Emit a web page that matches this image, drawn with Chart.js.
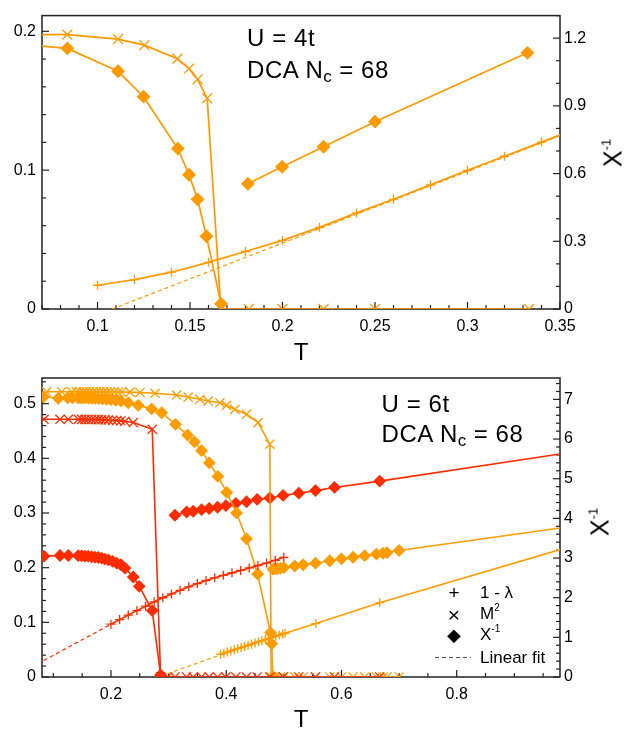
<!DOCTYPE html>
<html>
<head>
<meta charset="utf-8">
<script src="https://cdn.jsdelivr.net/npm/chart.js@4.4.1/dist/chart.umd.min.js"></script>
<style>
html,body{margin:0;padding:0;background:#fff;}
#wrap{position:relative;width:633px;height:730px;overflow:hidden;font-family:"Liberation Sans",Arial,Helvetica,sans-serif;color:#000;}
canvas{position:absolute;left:0;}
#c1{top:0;}
#c2{top:340px;}
.t{position:absolute;white-space:nowrap;line-height:1;}
.ann{font-size:24px;letter-spacing:0.6px;}
.ann sub{font-size:17px;vertical-align:baseline;position:relative;top:4px;letter-spacing:0;}
.ttl{font-size:24px;transform:translateX(-50%);}
.chi{font-size:25px;transform:translate(-50%,-50%) rotate(-90deg);}
.chi sup,.leg sup{vertical-align:baseline;position:relative;}
.chi sup{font-size:13px;top:-11px;}
.leg{font-size:17px;}
.leg sup{font-size:10px;top:-8px;}
.sym{width:20px;text-align:center;}
.dash{position:absolute;height:1px;background:repeating-linear-gradient(to right,#555 0 4px,transparent 4px 7px);}
</style>
</head>
<body>
<div id="wrap">
<canvas id="c1" width="633" height="340"></canvas>
<canvas id="c2" width="633" height="390"></canvas>

<div class="t ann" style="left:247px;top:25.5px">U = 4t</div>
<div class="t ann" style="left:247px;top:57.5px">DCA N<sub>c</sub> = 68</div>
<div class="t ttl" style="left:301px;top:340px">T</div>
<div class="t chi" style="left:613px;top:153px">Χ<sup>-1</sup></div>

<div class="t ann" style="left:381.5px;top:392px">U = 6t</div>
<div class="t ann" style="left:381.5px;top:422px">DCA N<sub>c</sub> = 68</div>
<div class="t ttl" style="left:301px;top:707px">T</div>
<div class="t chi" style="left:600px;top:522px">Χ<sup>-1</sup></div>

<div class="t leg sym" style="left:444px;top:583px;font-size:19px">+</div>
<div class="t leg" style="left:480px;top:584px">1 - λ</div>
<div class="t leg sym" style="left:444px;top:604px;font-size:21px">×</div>
<div class="t leg" style="left:480px;top:605px">M<sup>2</sup></div>
<div class="t leg sym" style="left:444px;top:626px;font-size:18px">◆</div>
<div class="t leg" style="left:480px;top:626px">Χ<sup>-1</sup></div>
<div class="dash" style="left:435px;top:657px;width:36px"></div>
<div class="t leg" style="left:480px;top:649px">Linear fit</div>
</div>

<script>
// ================= Panel 1 : U = 4t =================
// 1 - lambda (plus markers)
const topT_lambda = [0.10,0.12,0.14,0.16,0.18,0.20,0.22,0.24,0.26,0.28,0.30,0.32,0.34,0.36];
const topV_lambda = [0.0171,0.0212,0.0265,0.0336,0.0414,0.0494,0.0588,0.0692,0.0790,0.0894,0.0999,0.1100,0.1202,0.1304];
// linear fit of 1 - lambda (dashed)
const topT_fit = [0.1079,0.36];
const topV_fit = [0.0,0.130];
// M^2 (x markers)
const topT_m2 = [0.0625,0.0837,0.1111,0.1253,0.1432,0.1495,0.1541,0.1593,0.1667,0.1818,0.2000,0.2222,0.2500,0.3333];
const topV_m2 = [0.1977,0.1976,0.1943,0.1900,0.1802,0.1731,0.1654,0.1517,0,0,0,0,0,0];
// diamonds below Tc
const topT_dOrd = [0.0625,0.0837,0.1111,0.1249,0.1434,0.1495,0.1541,0.1589,0.1668];
const topV_dOrd = [0.1903,0.1877,0.1712,0.1529,0.1155,0.0967,0.0790,0.0524,0.0037];
// chi^-1 above Tc (right axis)
const topT_chiInv = [0.1813,0.1998,0.2222,0.2500,0.3324];
const topV_chiInv = [0.555,0.630,0.719,0.830,1.135];
// tick labels
const topXTicks = [0.1,0.15,0.2,0.25,0.3,0.35];
const topYTicks = [0,0.1,0.2];
const topY2Ticks = [0,0.3,0.6,0.9,1.2];

// ================= Panel 2 : U = 6t =================
// orange set
const botT_lamO = [0.390,0.396,0.402,0.408,0.414,0.420,0.426,0.432,0.438,0.444,0.450,0.456,0.462,0.468,0.474,0.480,0.486,0.492,0.498,0.502,0.5555,0.6664,1.0];
const botV_lamO = [0.0415,0.0435,0.0456,0.0477,0.0497,0.0518,0.0539,0.0560,0.0580,0.0601,0.0622,0.0643,0.0663,0.0684,0.0705,0.0726,0.0746,0.0767,0.0788,0.0800,0.0978,0.1360,0.2393];
const botT_fitO = [0.298,0.50];
const botV_fitO = [0.006,0.0815];
const botT_m2O = [0.0885,0.1145,0.1318,0.1405,0.146,0.152,0.157,0.163,0.169,0.175,0.181,0.187,0.193,0.199,0.206,0.213,0.2186,0.233,0.2503,0.2763,0.3139,0.334,0.3543,0.3687,0.389,0.4006,0.415,0.4353,0.4554,0.4757,
                  0.478,0.485,0.494,0.500,0.519,0.5335,0.555,0.5797,0.600,0.6202,0.6404,0.6607,0.6722,0.6791,0.700];
const botV_m2O = [0.5218,0.5218,0.5218,0.5218,0.5218,0.5218,0.5218,0.5218,0.5217,0.5217,0.5217,0.5216,0.5216,0.5215,0.5215,0.5214,0.5214,0.5212,0.5205,0.5190,0.5158,0.5121,0.5080,0.5048,0.5017,0.4970,0.4897,0.4806,0.4653,0.4259,
                  0,0,0,0,0,0,0,0,0,0,0,0,0,0,0];
const botT_dOrdO = [0.0830,0.1086,0.1250,0.1333,0.1429,0.1471,0.1515,0.1563,0.1613,0.1667,0.1724,0.1786,0.1852,0.1923,0.2000,0.2083,0.2174,0.2300,0.2473,0.2706,0.2879,0.3120,0.3330,0.3450,0.3573,0.3705,0.3855,0.4010,0.4180,0.4353,0.4545,0.4769,0.4790,0.4810];
const botV_dOrdO = [0.5127,0.5100,0.5105,0.5108,0.5108,0.5107,0.5106,0.5105,0.5103,0.5100,0.5097,0.5093,0.5088,0.5082,0.5074,0.5063,0.5048,0.5017,0.4970,0.4905,0.4835,0.4623,0.4425,0.4300,0.4140,0.3918,0.3670,0.3377,0.3000,0.2528,0.1885,0.0810,0.0607,0.0];
const botT_chiO = [0.481,0.485,0.489,0.494,0.500,0.519,0.5335,0.555,0.5797,0.600,0.6202,0.6404,0.6607,0.6722,0.6791,0.700,1.0];
const botV_chiO = [2.72,2.73,2.735,2.74,2.76,2.80,2.83,2.87,2.93,2.98,3.02,3.06,3.10,3.12,3.135,3.19,3.80];
// red set
const botT_lamR = [0.200,0.215,0.230,0.245,0.260,0.275,0.290,0.305,0.320,0.335,0.350,0.365,0.380,0.395,0.410,0.425,0.440,0.455,0.470,0.485,0.500];
const botV_lamR = [0.0966,0.1050,0.1133,0.1215,0.1295,0.1375,0.1450,0.1520,0.1585,0.1650,0.1710,0.1765,0.1815,0.1860,0.1905,0.1950,0.1995,0.2040,0.2085,0.2135,0.2190];
const botT_fitR = [0.0833,0.215];
const botV_fitR = [0.0302,0.105];
const botT_m2R = [0.0838,0.1116,0.126,0.1433,0.1492,0.1549,0.1606,0.1665,0.1723,0.178,0.1839,0.1896,0.1954,0.2029,0.2099,0.2173,0.2243,0.2387,0.2716,
                  0.2862,0.2985,0.311,0.3313,0.3427,0.3573,0.3705,0.385,0.3994,0.4167,0.4353,0.4537,0.4757,0.4988,0.526,0.555,0.588,0.6664];
const botV_m2R = [0.4715,0.4715,0.4715,0.4714,0.4714,0.4713,0.4712,0.4711,0.4710,0.4708,0.4706,0.4704,0.4701,0.4697,0.4693,0.4688,0.4678,0.4655,0.4533,
                  0,0,0,0,0,0,0,0,0,0,0,0,0,0,0,0,0,0];
const botT_dOrdR = [0.0838,0.1116,0.126,0.1433,0.1492,0.1549,0.1606,0.1665,0.1723,0.178,0.1839,0.1896,0.1954,0.2029,0.2099,0.2173,0.2243,0.2387,0.2491,0.2716,0.2862];
const botV_dOrdR = [0.2211,0.2223,0.2223,0.2220,0.2217,0.2211,0.2211,0.2200,0.2190,0.2186,0.2174,0.2156,0.2144,0.2114,0.2083,0.2053,0.1993,0.1830,0.1658,0.1215,0.0036];
const botT_chiR = [0.311,0.3313,0.3427,0.3573,0.3705,0.385,0.3994,0.4167,0.4353,0.4537,0.4757,0.4988,0.526,0.555,0.588,0.6664,1.0];
const botV_chiR = [4.08,4.16,4.18,4.22,4.25,4.28,4.32,4.375,4.42,4.48,4.515,4.58,4.635,4.70,4.78,4.94,5.67];
// tick labels
const botXTicks = [0.2,0.4,0.6,0.8];
const botYTicks = [0,0.1,0.2,0.3,0.4,0.5];
const botY2Ticks = [0,1,2,3,4,5,6,7];

// ================= drawing =================
const ORANGE_TOP = '#ff9900';
const ORANGE = '#ff9c00';
const RED = '#ff2c00';

function pts(T, V) { return T.map((t, i) => ({x: t, y: V[i]})); }
function series(T, V, color, style, r, axis, lw, dash) {
  return {
    data: pts(T, V), yAxisID: axis,
    borderColor: color, backgroundColor: color,
    borderWidth: lw, borderDash: dash || [],
    pointStyle: style || 'circle', pointRadius: style ? r : 0, pointHoverRadius: style ? r : 0,
    pointBackgroundColor: color, pointBorderColor: color, pointBorderWidth: 1.3,
    fill: false, tension: 0
  };
}

const frameTicks = {
  id: 'frameTicks',
  beforeDatasetsDraw(chart, args, opts) {
    const {ctx, chartArea: a} = chart;
    ctx.save();
    ctx.strokeStyle = '#222';
    ctx.lineWidth = 1.5;
    ctx.strokeRect(a.left, a.top, a.right - a.left, a.bottom - a.top);
    ctx.lineWidth = 1.2;
    const draw = (id, side) => {
      const s = chart.scales[id], c = opts[id];
      const n0 = Math.ceil(s.min / c.minor - 1e-6), n1 = Math.floor(s.max / c.minor + 1e-6);
      for (let n = n0; n <= n1; n++) {
        const v = n * c.minor;
        const r = v / c.major;
        const len = Math.abs(r - Math.round(r)) < 1e-6 ? 7 : 4;
        const p = s.getPixelForValue(v);
        ctx.beginPath();
        if (side === 'bottom') { ctx.moveTo(p, a.bottom); ctx.lineTo(p, a.bottom - len); }
        else if (side === 'left') { ctx.moveTo(a.left, p); ctx.lineTo(a.left + len, p); }
        else { ctx.moveTo(a.right, p); ctx.lineTo(a.right - len, p); }
        ctx.stroke();
      }
    };
    draw('x', 'bottom'); draw('y', 'left'); draw('y2', 'right');
    ctx.restore();
  }
};

const tickFont = {family: '"Liberation Sans", Arial, Helvetica, sans-serif', size: 16};
function axis(pos, min, max, ticksArr, pad, fitFn) {
  return {
    type: 'linear', position: pos, min: min, max: max,
    grid: {display: false, drawTicks: false},
    border: {display: false},
    afterBuildTicks: s => { s.ticks = ticksArr.map(v => ({value: v})); },
    afterFit: fitFn,
    ticks: {padding: pad, font: tickFont, color: '#000', autoSkip: false, maxRotation: 0,
            callback: v => String(v)}
  };
}

function makeChart(id, datasets, cfg) {
  return new Chart(document.getElementById(id), {
    type: 'line',
    data: {datasets: datasets},
    options: {
      responsive: false, animation: false, devicePixelRatio: 1, events: [],
      layout: {padding: {left: 0, right: 0, top: cfg.padTop, bottom: 0}},
      plugins: {legend: {display: false}, tooltip: {enabled: false}, frameTicks: cfg.ticks},
      scales: {
        x: axis('bottom', cfg.x[0], cfg.x[1], cfg.xt, 7.5, s => { s.height = cfg.xH; }),
        y: axis('left', cfg.y[0], cfg.y[1], cfg.yt, 6, s => { s.width = 42; }),
        y2: axis('right', cfg.y2[0], cfg.y2[1], cfg.y2t, 4, s => { s.width = 73; })
      }
    },
    plugins: [frameTicks]
  });
}

makeChart('c1', [
  series(topT_fit, topV_fit, ORANGE_TOP, null, 0, 'y', 1.2, [4, 3]),
  series(topT_lambda, topV_lambda, ORANGE_TOP, 'cross', 4.5, 'y', 1.7),
  series(topT_m2, topV_m2, ORANGE_TOP, 'crossRot', 7, 'y', 1.7),
  series(topT_dOrd, topV_dOrd, ORANGE_TOP, 'rectRot', 6, 'y', 1.7),
  series(topT_chiInv, topV_chiInv, ORANGE_TOP, 'rectRot', 6, 'y2', 1.7)
], {
  padTop: 10, xH: 31,
  x: [0.07, 0.35], y: [0, 0.2113], y2: [0, 1.3],
  xt: topXTicks, yt: topYTicks, y2t: topY2Ticks,
  ticks: {x: {major: 0.05, minor: 0.01}, y: {major: 0.1, minor: 0.02}, y2: {major: 0.3, minor: 0.1}}
});

makeChart('c2', [
  series(botT_fitR, botV_fitR, RED, null, 0, 'y', 1.2, [4, 3]),
  series(botT_fitO, botV_fitO, ORANGE, null, 0, 'y', 1.2, [4, 3]),
  series(botT_lamR, botV_lamR, RED, 'cross', 4.5, 'y', 1.6),
  series(botT_lamO, botV_lamO, ORANGE, 'cross', 4.5, 'y', 1.6),
  series(botT_m2R, botV_m2R, RED, 'crossRot', 6.5, 'y', 1.6),
  series(botT_m2O, botV_m2O, ORANGE, 'crossRot', 6.5, 'y', 1.6),
  series(botT_dOrdR, botV_dOrdR, RED, 'rectRot', 5.5, 'y', 1.6),
  series(botT_dOrdO, botV_dOrdO, ORANGE, 'rectRot', 5.5, 'y', 1.6),
  series(botT_chiR, botV_chiR, RED, 'rectRot', 5.5, 'y2', 1.6),
  series(botT_chiO, botV_chiO, ORANGE, 'rectRot', 5.5, 'y2', 1.6)
], {
  padTop: 38, xH: 53,
  x: [0.0803, 0.9793], y: [0, 0.547], y2: [0, 7.54],
  xt: botXTicks, yt: botYTicks, y2t: botY2Ticks,
  ticks: {x: {major: 0.2, minor: 0.05}, y: {major: 0.1, minor: 0.02}, y2: {major: 1, minor: 0.2}}
});
</script>
</body>
</html>
